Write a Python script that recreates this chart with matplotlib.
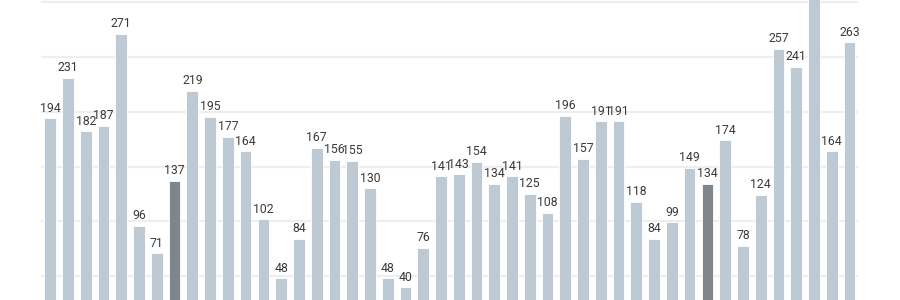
import matplotlib
matplotlib.use("Agg")
import matplotlib.pyplot as plt

values = [194, 231, 182, 187, 271, 96, 71, 137, 219, 195, 177, 164, 102, 48, 84,
          167, 156, 155, 130, 48, 40, 76, 141, 143, 154, 134, 141, 125, 108, 196,
          157, 191, 191, 118, 84, 99, 149, 134, 174, 78, 124, 257, 241, 312, 164, 263]
highlight = [7, 37]
grid_ticks = [0, 50, 100, 150, 200, 250, 300]

light = "#bdcad3"
dark = "#7e858b"
colors = [dark if i in highlight else light for i in range(len(values))]

fig = plt.figure(figsize=(9, 3), dpi=100)
ymax = 350
px_per_unit = 54.9 / 50
h = ymax * px_per_unit / 300
ax = fig.add_axes([41 / 900, -31.2 / 300, (858 - 41) / 900, h])
x = list(range(len(values)))
bars = ax.bar(x, values, width=0.66, color=colors, edgecolor="white", linewidth=0.6, zorder=2)
ax.set_xlim(-0.52, len(values) - 0.52)
ax.set_ylim(0, ymax)
ax.set_yticks(grid_ticks)
ax.grid(axis="y", color="#eeeeee", linewidth=1.6, zorder=0)
ax.set_axisbelow(True)
ax.tick_params(left=False, bottom=False, labelleft=False, labelbottom=False)
for s in ax.spines.values():
    s.set_visible(False)
ax.bar_label(bars, labels=[str(v) for v in values], padding=2.6, fontsize=8.8,
             color="#3a3a3a", family=["Roboto", "DejaVu Sans"])
fig.savefig("out.png", dpi=100)
